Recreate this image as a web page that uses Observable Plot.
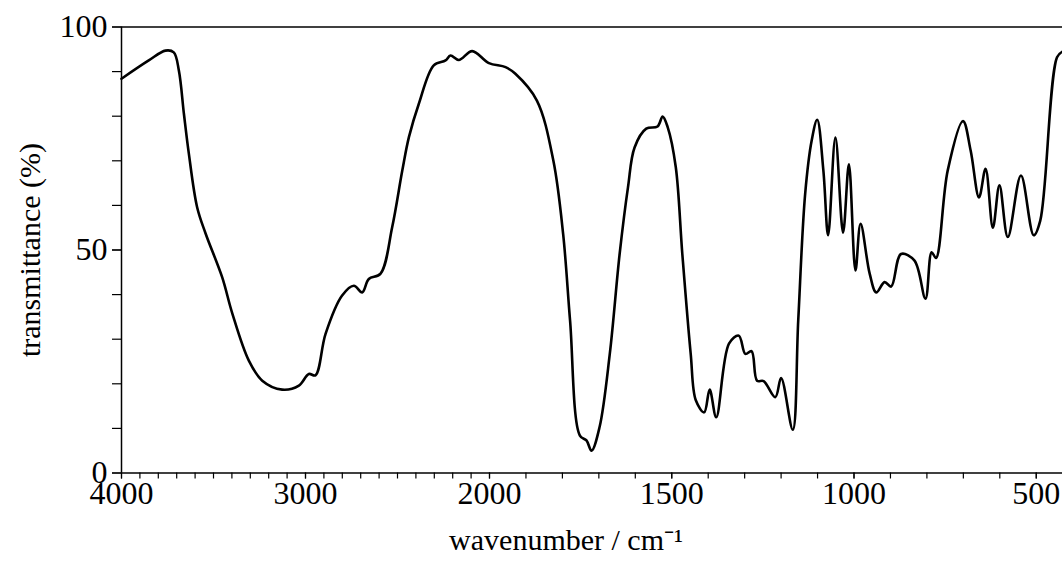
<!DOCTYPE html>
<html>
<head>
<meta charset="utf-8">
<script src="https://cdn.jsdelivr.net/npm/d3@7"></script>
<script src="https://cdn.jsdelivr.net/npm/@observablehq/plot@0.6"></script>
<style>
  body { margin: 0; background: #fff; }
</style>
</head>
<body>
<div id="chart"></div>
<script>
// espectro IR: numero de onda (cm-1) y transmitancia (%)
const wavenumber = [4000, 3852, 3761, 3716, 3688, 3661, 3634, 3589, 3543, 3453, 3398, 3308, 3235, 3127, 3036, 2982, 2946, 2891, 2801, 2737, 2692, 2656, 2592, 2529, 2474, 2438, 2384, 2303, 2239, 2212, 2167, 2094, 2003, 1956, 1929, 1870, 1825, 1798, 1779, 1752, 1734, 1720, 1698, 1670, 1643, 1620, 1602, 1570, 1539, 1525, 1511, 1489, 1471, 1448, 1434, 1411, 1396, 1378, 1343, 1316, 1298, 1281, 1266, 1248, 1216, 1200, 1168, 1153, 1134, 1116, 1101, 1084, 1071, 1051, 1030, 1014, 996, 982, 957, 939, 916, 898, 871, 834, 804, 787, 775, 743, 701, 680, 657, 639, 619, 601, 578, 542, 507, 489, 443, 428]
const transmittance = [88.4, 92.5, 94.7, 94.3, 90.2, 80.6, 71.6, 59.6, 53.7, 43.9, 35.8, 25.2, 20.7, 18.7, 19.6, 22.2, 21.9, 31.2, 39.8, 42.0, 40.5, 43.5, 44.7, 55.1, 67.8, 75.3, 82.8, 91.4, 92.5, 93.6, 92.6, 94.6, 91.9, 91.0, 89.5, 83.5, 70.1, 53.6, 34.2, 8.4, 7.3, 5.0, 10.3, 26.7, 49.1, 64.1, 73.0, 77.2, 77.7, 79.9, 77.5, 68.6, 49.1, 26.7, 16.3, 13.6, 18.7, 12.5, 29.0, 30.8, 26.7, 27.3, 20.7, 20.6, 17.0, 21.3, 9.7, 34.2, 62.6, 74.6, 79.2, 67.8, 53.3, 75.2, 53.9, 69.2, 45.4, 55.9, 44.7, 40.5, 42.8, 41.8, 49.1, 47.6, 39.1, 49.5, 48.2, 67.8, 78.9, 72.3, 61.8, 68.2, 55.0, 64.5, 52.9, 66.7, 53.3, 56.6, 93.2, 94.5]
const xMajor = [4000, 3000, 2000, 1500, 1000, 500]
const xMinor = d3.range(500, 4001, 100)
const yTicks = d3.range(0, 101, 10)
const yLabels = [0, 50, 100]

// eje x con cambio de escala en 2000 cm-1 (doble resolución debajo)
const fx = d3.scaleLinear().domain([4000, 2000, 428]).range([0, 368, 941])

const data = wavenumber.map((w, i) => ({u: fx(w), t: transmittance[i]}))

let chart = Plot.plot({
  width: 1062,
  height: 564,
  marginTop: 26.5,
  marginBottom: 91.5,
  marginLeft: 121,
  marginRight: 0,
  style: {fontFamily: "Liberation Serif", fontSize: "30px", color: "#000", background: "#fff"},
  x: {domain: [0, 941], axis: null},
  y: {domain: [0, 100], axis: null},
  marks: [
    Plot.axisX(xMinor.map(fx), {tickSize: 6, text: null, label: null, strokeWidth: 1.2}),
    Plot.axisX(xMajor.map(fx), {tickSize: 6, tickPadding: 2, fontSize: 32, strokeWidth: 1.2, label: null, tickFormat: u => String(Math.round(fx.invert(u)))}),
    Plot.axisY(yTicks, {tickSize: 9, text: null, label: null, strokeWidth: 1.2}),
    Plot.axisY(yLabels, {tickSize: 9, tickPadding: 5, fontSize: 32, label: null, strokeWidth: 1.2, tickFormat: d => String(d)}),
    Plot.ruleY([0, 100], {stroke: "#000", strokeWidth: 1.5}),
    Plot.ruleX([0], {stroke: "#000", strokeWidth: 1.5}),
    Plot.line(data, {x: "u", y: "t", stroke: "#000", strokeWidth: 2.6, curve: "catmull-rom"}),
    Plot.text(["wavenumber / cm\u207B\u00B9"], {frameAnchor: "bottom", dy: 77, x: fx(1790), fontSize: 30, textAnchor: "middle"}),
    Plot.text(["transmittance (%)"], {frameAnchor: "left", dx: -91, rotate: -90, fontSize: 30, textAnchor: "middle"})
  ]
})
d3.select('#chart').append(() => chart)
</script>
</body>
</html>
